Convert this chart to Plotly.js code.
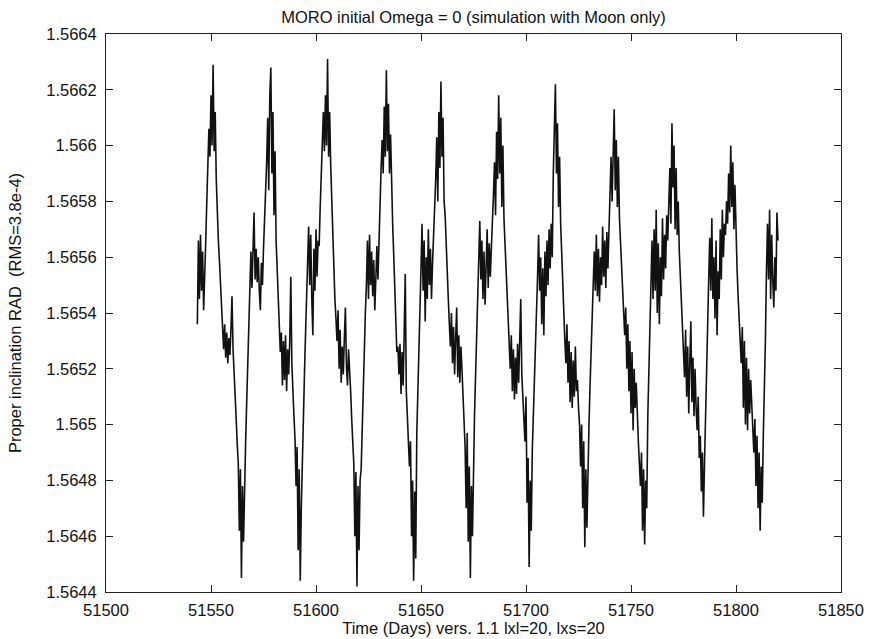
<!DOCTYPE html>
<html>
<head>
<meta charset="utf-8">
<script src="https://cdn.plot.ly/plotly-3.0.1.min.js"></script>
<style>html,body{margin:0;padding:0;background:#fff;}#chart{width:869px;height:639px;}</style>
</head>
<body>
<div id="chart"></div>
<script>
// Time (days), 0.5-day sampling
const days = [
51543.5,51544,51544.5,51545,51545.5,51546,51546.5,51547,51547.5,51548,51548.5,51549,51549.5,51550,51550.5,51551,51551.5,51552,51552.5,51553,
51553.5,51554,51554.5,51555,51555.5,51556,51556.5,51557,51557.5,51558,51558.5,51559,51559.5,51560,51560.5,51561,51561.5,51562,51562.5,51563,
51563.5,51564,51564.5,51565,51565.5,51566,51566.5,51567,51567.5,51568,51568.5,51569,51569.5,51570,51570.5,51571,51571.5,51572,51572.5,51573,
51573.5,51574,51574.5,51575,51575.5,51576,51576.5,51577,51577.5,51578,51578.5,51579,51579.5,51580,51580.5,51581,51581.5,51582,51582.5,51583,
51583.5,51584,51584.5,51585,51585.5,51586,51586.5,51587,51587.5,51588,51588.5,51589,51589.5,51590,51590.5,51591,51591.5,51592,51592.5,51593,
51593.5,51594,51594.5,51595,51595.5,51596,51596.5,51597,51597.5,51598,51598.5,51599,51599.5,51600,51600.5,51601,51601.5,51602,51602.5,51603,
51603.5,51604,51604.5,51605,51605.5,51606,51606.5,51607,51607.5,51608,51608.5,51609,51609.5,51610,51610.5,51611,51611.5,51612,51612.5,51613,
51613.5,51614,51614.5,51615,51615.5,51616,51616.5,51617,51617.5,51618,51618.5,51619,51619.5,51620,51620.5,51621,51621.5,51622,51622.5,51623,
51623.5,51624,51624.5,51625,51625.5,51626,51626.5,51627,51627.5,51628,51628.5,51629,51629.5,51630,51630.5,51631,51631.5,51632,51632.5,51633,
51633.5,51634,51634.5,51635,51635.5,51636,51636.5,51637,51637.5,51638,51638.5,51639,51639.5,51640,51640.5,51641,51641.5,51642,51642.5,51643,
51643.5,51644,51644.5,51645,51645.5,51646,51646.5,51647,51647.5,51648,51648.5,51649,51649.5,51650,51650.5,51651,51651.5,51652,51652.5,51653,
51653.5,51654,51654.5,51655,51655.5,51656,51656.5,51657,51657.5,51658,51658.5,51659,51659.5,51660,51660.5,51661,51661.5,51662,51662.5,51663,
51663.5,51664,51664.5,51665,51665.5,51666,51666.5,51667,51667.5,51668,51668.5,51669,51669.5,51670,51670.5,51671,51671.5,51672,51672.5,51673,
51673.5,51674,51674.5,51675,51675.5,51676,51676.5,51677,51677.5,51678,51678.5,51679,51679.5,51680,51680.5,51681,51681.5,51682,51682.5,51683,
51683.5,51684,51684.5,51685,51685.5,51686,51686.5,51687,51687.5,51688,51688.5,51689,51689.5,51690,51690.5,51691,51691.5,51692,51692.5,51693,
51693.5,51694,51694.5,51695,51695.5,51696,51696.5,51697,51697.5,51698,51698.5,51699,51699.5,51700,51700.5,51701,51701.5,51702,51702.5,51703,
51703.5,51704,51704.5,51705,51705.5,51706,51706.5,51707,51707.5,51708,51708.5,51709,51709.5,51710,51710.5,51711,51711.5,51712,51712.5,51713,
51713.5,51714,51714.5,51715,51715.5,51716,51716.5,51717,51717.5,51718,51718.5,51719,51719.5,51720,51720.5,51721,51721.5,51722,51722.5,51723,
51723.5,51724,51724.5,51725,51725.5,51726,51726.5,51727,51727.5,51728,51728.5,51729,51729.5,51730,51730.5,51731,51731.5,51732,51732.5,51733,
51733.5,51734,51734.5,51735,51735.5,51736,51736.5,51737,51737.5,51738,51738.5,51739,51739.5,51740,51740.5,51741,51741.5,51742,51742.5,51743,
51743.5,51744,51744.5,51745,51745.5,51746,51746.5,51747,51747.5,51748,51748.5,51749,51749.5,51750,51750.5,51751,51751.5,51752,51752.5,51753,
51753.5,51754,51754.5,51755,51755.5,51756,51756.5,51757,51757.5,51758,51758.5,51759,51759.5,51760,51760.5,51761,51761.5,51762,51762.5,51763,
51763.5,51764,51764.5,51765,51765.5,51766,51766.5,51767,51767.5,51768,51768.5,51769,51769.5,51770,51770.5,51771,51771.5,51772,51772.5,51773,
51773.5,51774,51774.5,51775,51775.5,51776,51776.5,51777,51777.5,51778,51778.5,51779,51779.5,51780,51780.5,51781,51781.5,51782,51782.5,51783,
51783.5,51784,51784.5,51785,51785.5,51786,51786.5,51787,51787.5,51788,51788.5,51789,51789.5,51790,51790.5,51791,51791.5,51792,51792.5,51793,
51793.5,51794,51794.5,51795,51795.5,51796,51796.5,51797,51797.5,51798,51798.5,51799,51799.5,51800,51800.5,51801,51801.5,51802,51802.5,51803,
51803.5,51804,51804.5,51805,51805.5,51806,51806.5,51807,51807.5,51808,51808.5,51809,51809.5,51810,51810.5,51811,51811.5,51812,51812.5,51813,
51813.5,51814,51814.5,51815,51815.5,51816,51816.5,51817,51817.5,51818,51818.5,51819,51819.5,51820
];

// Proper inclination (rad)
const inclination = [
1.56536,1.56566,1.56545,1.56568,1.56548,1.56562,1.56541,1.56560,1.56566,1.56580,1.56592,1.56606,1.56596,1.56618,1.56600,1.56629,1.56598,1.56612,1.56588,1.56575,
1.56566,1.56559,1.56550,1.56543,1.56535,1.56527,1.56536,1.56524,1.56533,1.56522,1.56531,1.56525,1.56534,1.56546,1.56527,1.56520,1.56510,1.56502,1.56493,1.56486,
1.56462,1.56484,1.56445,1.56478,1.56458,1.56482,1.56494,1.56508,1.56522,1.56536,1.56548,1.56562,1.56549,1.56564,1.56576,1.56552,1.56563,1.56551,1.56560,1.56548,
1.56541,1.56558,1.56550,1.56563,1.56572,1.56585,1.56594,1.56610,1.56584,1.56618,1.56628,1.56590,1.56612,1.56575,1.56598,1.56566,1.56556,1.56545,1.56537,1.56526,
1.56533,1.56514,1.56530,1.56516,1.56532,1.56512,1.56527,1.56518,1.56530,1.56553,1.56522,1.56509,1.56503,1.56495,1.56478,1.56492,1.56455,1.56484,1.56444,1.56470,
1.56490,1.56503,1.56518,1.56532,1.56547,1.56560,1.56571,1.56550,1.56568,1.56545,1.56532,1.56563,1.56548,1.56570,1.56553,1.56566,1.56564,1.56578,1.56590,1.56602,
1.56612,1.56598,1.56618,1.56600,1.56631,1.56596,1.56612,1.56593,1.56580,1.56568,1.56556,1.56545,1.56538,1.56530,1.56541,1.56520,1.56534,1.56515,1.56528,1.56518,
1.56531,1.56542,1.56521,1.56514,1.56527,1.56516,1.56512,1.56502,1.56493,1.56486,1.56460,1.56483,1.56442,1.56478,1.56455,1.56480,1.56484,1.56500,1.56514,1.56528,
1.56540,1.56550,1.56566,1.56545,1.56568,1.56550,1.56562,1.56546,1.56559,1.56541,1.56556,1.56564,1.56552,1.56568,1.56578,1.56592,1.56602,1.56590,1.56614,1.56596,
1.56627,1.56598,1.56615,1.56590,1.56604,1.56584,1.56572,1.56561,1.56549,1.56538,1.56526,1.56528,1.56518,1.56529,1.56511,1.56526,1.56514,1.56533,1.56554,1.56512,
1.56503,1.56497,1.56485,1.56494,1.56460,1.56480,1.56444,1.56476,1.56452,1.56497,1.56510,1.56525,1.56540,1.56556,1.56572,1.56548,1.56566,1.56537,1.56560,1.56545,
1.56570,1.56550,1.56563,1.56545,1.56558,1.56568,1.56573,1.56588,1.56603,1.56580,1.56612,1.56592,1.56623,1.56596,1.56610,1.56580,1.56575,1.56562,1.56553,1.56545,
1.56536,1.56528,1.56540,1.56522,1.56535,1.56518,1.56531,1.56542,1.56517,1.56532,1.56515,1.56528,1.56520,1.56510,1.56498,1.56492,1.56470,1.56497,1.56458,1.56485,
1.56445,1.56478,1.56460,1.56491,1.56504,1.56518,1.56531,1.56546,1.56560,1.56573,1.56552,1.56566,1.56545,1.56562,1.56543,1.56558,1.56570,1.56549,1.56565,1.56553,
1.56568,1.56573,1.56582,1.56594,1.56575,1.56605,1.56588,1.56618,1.56590,1.56610,1.56578,1.56600,1.56574,1.56565,1.56556,1.56546,1.56538,1.56528,1.56520,1.56532,
1.56512,1.56527,1.56509,1.56524,1.56511,1.56529,1.56515,1.56530,1.56545,1.56518,1.56510,1.56503,1.56494,1.56510,1.56472,1.56488,1.56449,1.56480,1.56462,1.56491,
1.56502,1.56515,1.56528,1.56541,1.56553,1.56568,1.56548,1.56560,1.56536,1.56556,1.56532,1.56562,1.56546,1.56566,1.56550,1.56570,1.56556,1.56572,1.56560,1.56590,
1.56606,1.56622,1.56590,1.56608,1.56578,1.56596,1.56572,1.56560,1.56550,1.56540,1.56530,1.56522,1.56536,1.56515,1.56530,1.56508,1.56526,1.56506,1.56523,1.56510,
1.56528,1.56512,1.56516,1.56506,1.56500,1.56485,1.56500,1.56470,1.56494,1.56456,1.56484,1.56463,1.56490,1.56500,1.56514,1.56528,1.56540,1.56552,1.56562,1.56548,
1.56568,1.56546,1.56563,1.56544,1.56560,1.56550,1.56571,1.56553,1.56566,1.56549,1.56569,1.56556,1.56573,1.56582,1.56596,1.56580,1.56605,1.56613,1.56584,1.56602,
1.56578,1.56596,1.56574,1.56566,1.56556,1.56548,1.56540,1.56532,1.56542,1.56520,1.56536,1.56512,1.56530,1.56504,1.56526,1.56498,1.56520,1.56506,1.56515,1.56500,
1.56494,1.56486,1.56478,1.56490,1.56462,1.56484,1.56457,1.56480,1.56470,1.56503,1.56518,1.56534,1.56550,1.56566,1.56545,1.56570,1.56548,1.56577,1.56540,1.56565,
1.56536,1.56560,1.56546,1.56574,1.56552,1.56568,1.56556,1.56575,1.56566,1.56580,1.56592,1.56572,1.56608,1.56585,1.56600,1.56570,1.56592,1.56568,1.56580,1.56562,
1.56552,1.56543,1.56535,1.56527,1.56517,1.56534,1.56510,1.56528,1.56504,1.56522,1.56537,1.56508,1.56524,1.56503,1.56520,1.56506,1.56498,1.56510,1.56488,1.56496,
1.56476,1.56490,1.56467,1.56486,1.56500,1.56518,1.56536,1.56552,1.56567,1.56548,1.56574,1.56545,1.56560,1.56538,1.56566,1.56532,1.56555,1.56545,1.56570,1.56552,
1.56577,1.56560,1.56572,1.56568,1.56580,1.56572,1.56590,1.56576,1.56600,1.56578,1.56594,1.56570,1.56586,1.56566,1.56556,1.56546,1.56537,1.56530,1.56522,1.56535,
1.56506,1.56530,1.56500,1.56524,1.56498,1.56520,1.56504,1.56516,1.56508,1.56498,1.56490,1.56502,1.56478,1.56496,1.56470,1.56490,1.56462,1.56485,1.56472,1.56496,
1.56510,1.56530,1.56555,1.56572,1.56552,1.56577,1.56545,1.56568,1.56552,1.56542,1.56560,1.56548,1.56576,1.56566
];

const xTickVals = [51500, 51550, 51600, 51650, 51700, 51750, 51800, 51850];
const yTickVals = [1.5644, 1.5646, 1.5648, 1.565, 1.5652, 1.5654, 1.5656, 1.5658, 1.566, 1.5662, 1.5664];
const yTickText = ["1.5644", "1.5646", "1.5648", "1.565", "1.5652", "1.5654", "1.5656", "1.5658", "1.566", "1.5662", "1.5664"];

const FONT = "'Liberation Sans', Arial, Helvetica, sans-serif";

const trace = {
  x: days,
  y: inclination,
  type: 'scatter',
  mode: 'lines',
  line: {color: '#111111', width: 1.6},
  hoverinfo: 'x+y'
};

const layout = {
  width: 869,
  height: 639,
  paper_bgcolor: '#ffffff',
  plot_bgcolor: '#ffffff',
  showlegend: false,
  margin: {l: 106, r: 28, t: 34, b: 47},
  font: {family: FONT, size: 16.5, color: '#111111'},
  title: {
    text: 'MORO initial Omega = 0 (simulation with Moon only)',
    font: {family: FONT, size: 16.5, color: '#111111'},
    x: 0.5, xref: 'paper', xanchor: 'center',
    y: 1 - 17/639, yref: 'container', yanchor: 'middle'
  },
  xaxis: {
    range: [51500, 51850],
    tickmode: 'array',
    tickvals: xTickVals,
    ticktext: xTickVals.map(String),
    ticks: 'inside', ticklen: 7, tickwidth: 1, tickcolor: '#222',
    ticklabelstandoff: 3,
    showline: true, linecolor: '#222', linewidth: 1, mirror: 'ticks',
    showgrid: false, zeroline: false,
    tickfont: {family: FONT, size: 16.5, color: '#111111'},
    title: {text: 'Time (Days) vers. 1.1 lxl=20, lxs=20', font: {family: FONT, size: 16.5, color: '#111111'}, standoff: 0}
  },
  yaxis: {
    range: [1.5644, 1.5664],
    tickmode: 'array',
    tickvals: yTickVals,
    ticktext: yTickText,
    ticks: 'inside', ticklen: 7, tickwidth: 1, tickcolor: '#222',
    ticklabelstandoff: 5,
    showline: true, linecolor: '#222', linewidth: 1, mirror: 'ticks',
    showgrid: false, zeroline: false,
    tickfont: {family: FONT, size: 16.5, color: '#111111'},
    title: {text: 'Proper inclination RAD\u00a0\u00a0(RMS=3.8e-4)', font: {family: FONT, size: 16.5, color: '#111111'}, standoff: 20}
  }
};

Plotly.newPlot('chart', [trace], layout, {displayModeBar: false, staticPlot: true});
</script>
</body>
</html>
